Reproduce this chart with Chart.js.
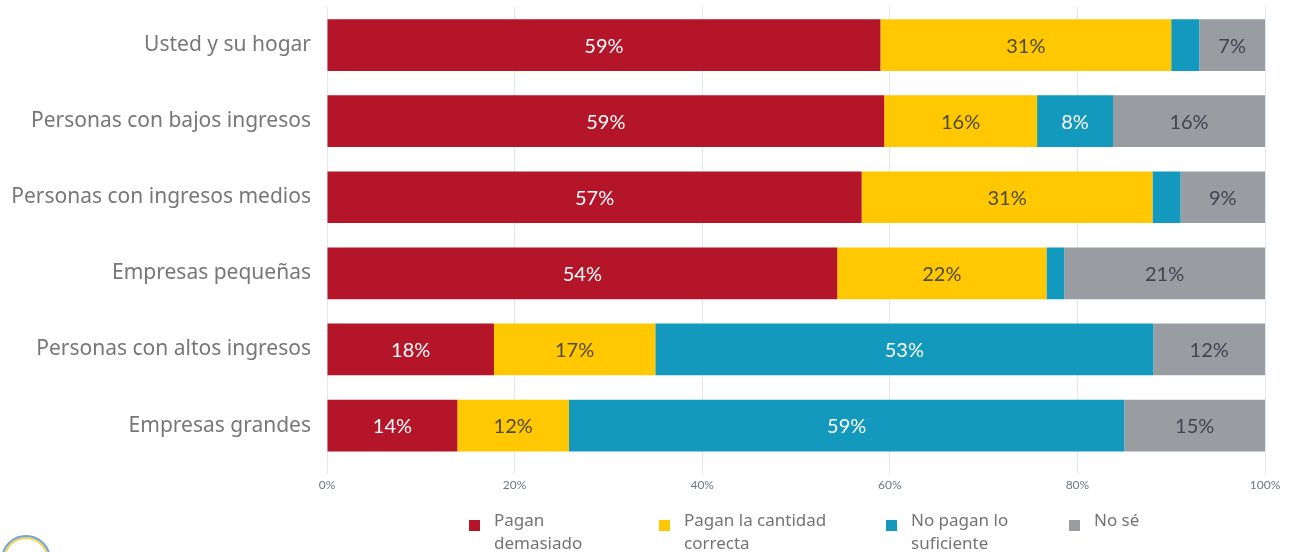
<!DOCTYPE html>
<html>
<head>
<meta charset="utf-8">
<script src="https://cdn.jsdelivr.net/npm/chart.js@4"></script>
<style>
  html, body { margin: 0; padding: 0; background: #fff; }
  #wrap { position: relative; width: 1289px; height: 552px; overflow: hidden; }
  #legend { position: absolute; top: 0; left: 0; width: 100%; height: 100%; pointer-events: none;
            font-family: 'Noto Sans', sans-serif; font-size: 17px; color: #737373; }
  .item { position: absolute; top: 508px; line-height: 23px; }
  .item span.box { position: absolute; left: 0; top: 12px; width: 11px; height: 11px; }
  .item div.txt { margin-left: 25px; white-space: nowrap; }
  #logo { position: absolute; left: 1px; top: 535px; width: 46px; height: 46px; border-radius: 50%;
          border: 2px solid #6fa4d8; box-shadow: inset 0 0 0 2px #f5d34a; }
</style>
</head>
<body>
<div id="wrap">
  <canvas id="barChart"></canvas>
  <div id="legend"></div>
  <div id="logo"></div>
</div>
<script>
const categories = [
    'Usted y su hogar',
    'Personas con bajos ingresos',
    'Personas con ingresos medios',
    'Empresas pequeñas',
    'Personas con altos ingresos',
    'Empresas grandes'
];
const seriesNames = [
    'Pagan demasiado',
    'Pagan la cantidad correcta',
    'No pagan lo suficiente',
    'No sé'
];
const pagandemasiado = [59, 59.4, 57, 54.4, 17.8, 13.9];
const pagancorrecta = [31, 16.3, 31, 22.3, 17.2, 11.9];
const nopagan = [3, 8.1, 3, 1.9, 53.1, 59.2];
const nose = [7, 16.2, 9, 21.4, 11.9, 15];
const xTicks = [0, 20, 40, 60, 80, 100];

const colors = ['#B51529', '#FFC800', '#1299BD', '#999DA1'];
const labelColors = ['#ffffff', '#4d4a30', '#ffffff', '#3f4550'];
const legendLines = [
    ['Pagan', 'demasiado'],
    ['Pagan la cantidad', 'correcta'],
    ['No pagan lo', 'suficiente'],
    ['No sé']
];
const legendLeft = [469, 659, 886, 1069];

// html legend with two-line labels
const legendEl = document.getElementById('legend');
seriesNames.forEach((name, i) => {
    const item = document.createElement('div');
    item.className = 'item';
    item.style.left = legendLeft[i] + 'px';
    item.innerHTML = '<span class="box" style="background:' + colors[i] + '"></span>' +
        '<div class="txt">' + legendLines[i].join('<br>') + '</div>';
    legendEl.appendChild(item);
});

// draws the % inside each bar segment
const barLabels = {
    id: 'barLabels',
    afterDatasetsDraw(chart) {
        const ctx = chart.ctx;
        ctx.save();
        ctx.font = '20px Lato';
        ctx.textAlign = 'center';
        ctx.textBaseline = 'middle';
        chart.data.datasets.forEach((ds, i) => {
            chart.getDatasetMeta(i).data.forEach((bar, j) => {
                const v = ds.data[j];
                if (v < 5) return;
                ctx.fillStyle = labelColors[i];
                ctx.fillText(Math.round(v) + '%', (bar.x + bar.base) / 2, bar.y + 1);
            });
        });
        ctx.restore();
    }
};

const ctx1 = document.getElementById('barChart').getContext('2d');
const chart = new Chart(ctx1, {
    type: 'bar',
    data: {
        labels: categories,
        datasets: [pagandemasiado, pagancorrecta, nopagan, nose].map((d, i) => ({
            label: seriesNames[i],
            data: d,
            backgroundColor: colors[i],
            borderWidth: 0,
            categoryPercentage: 0.68,
            barPercentage: 1
        }))
    },
    options: {
        indexAxis: 'y',
        responsive: true,
        maintainAspectRatio: false,
        animation: false,
        layout: { padding: { top: 7, right: 24, left: 0, bottom: 56 } },
        plugins: {
            tooltip: { enabled: false },
            legend: { display: false }
        },
        scales: {
            x: {
                stacked: true,
                min: 0,
                max: 100,
                afterBuildTicks: axis => { axis.ticks = xTicks.map(v => ({ value: v })); },
                ticks: {
                    color: '#6b7788',
                    font: { family: 'Lato', size: 12 },
                    padding: 4,
                    maxRotation: 0,
                    callback: v => v + '%'
                },
                grid: { color: '#e3e8ef', tickLength: 10 },
                border: { display: false }
            },
            y: {
                stacked: true,
                afterFit: axis => {
                    axis.width = 327;
                    axis.paddingTop = 0;
                    axis.paddingBottom = 0;
                },
                ticks: {
                    color: '#777777',
                    font: { family: 'Noto Sans', size: 21 },
                    padding: 8
                },
                grid: { display: false },
                border: { display: true, color: '#e3e8ef' }
            }
        }
    },
    plugins: [barLabels]
});
</script>
</body>
</html>
